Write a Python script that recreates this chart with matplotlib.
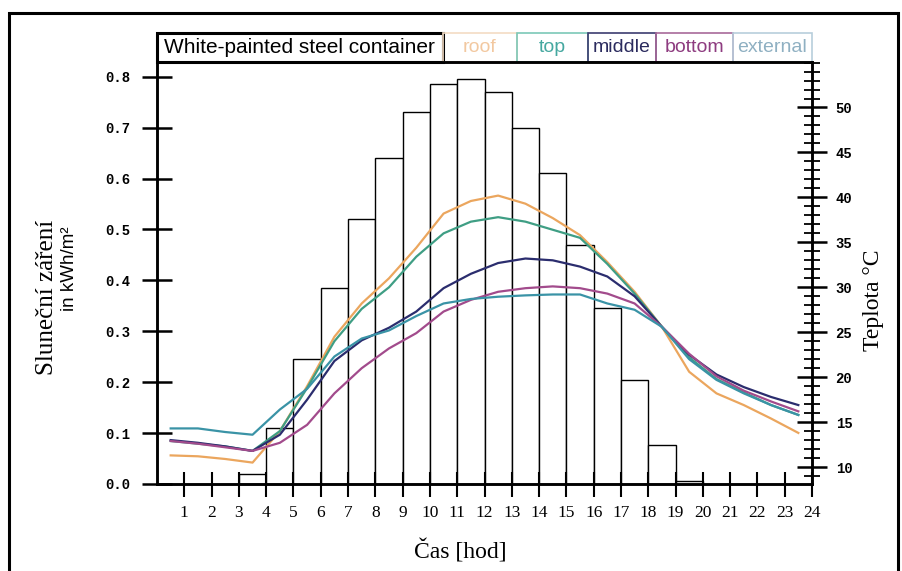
import numpy as np
import matplotlib.pyplot as plt
from matplotlib.patches import Rectangle
from matplotlib.ticker import MultipleLocator, FormatStrFormatter

# hourly solar radiation (bar for hour h spans h..h+1)
bar_hours = [3, 4, 5, 6, 7, 8, 9, 10, 11, 12, 13, 14, 15, 16, 17, 18, 19]
radiation = [0.02, 0.11, 0.245, 0.385, 0.52, 0.64, 0.73, 0.785, 0.795, 0.77,
             0.70, 0.61, 0.47, 0.345, 0.205, 0.077, 0.005]

# temperatures read at the middle of each hour
t_hours = [0.5, 1.5, 2.5, 3.5, 4.5, 5.5, 6.5, 7.5, 8.5, 9.5, 10.5, 11.5,
           12.5, 13.5, 14.5, 15.5, 16.5, 17.5, 18.5, 19.5, 20.5, 21.5, 22.5, 23.5]
roof = [11.3, 11.2, 10.9, 10.5, 14.0, 19.0, 24.5, 28.2, 31.0, 34.4, 38.2, 39.6,
        40.2, 39.3, 37.7, 35.8, 32.8, 29.5, 25.6, 20.6, 18.2, 16.9, 15.4, 13.8]
top = [12.9, 12.6, 12.3, 11.8, 14.0, 18.8, 24.0, 27.6, 30.0, 33.4, 36.0, 37.3,
       37.8, 37.3, 36.4, 35.5, 32.6, 29.3, 25.6, 22.2, 19.8, 18.3, 16.9, 15.8]
middle = [13.0, 12.7, 12.3, 11.8, 13.6, 17.5, 21.8, 24.1, 25.5, 27.3, 29.9, 31.5,
          32.7, 33.2, 33.0, 32.3, 31.2, 29.0, 25.6, 22.5, 20.3, 18.9, 17.8, 16.9]
bottom = [12.9, 12.6, 12.2, 11.8, 12.7, 14.7, 18.2, 21.0, 23.2, 24.9, 27.3, 28.6,
          29.5, 29.9, 30.1, 29.9, 29.3, 28.2, 25.6, 22.6, 20.1, 18.5, 17.3, 16.2]
external = [14.3, 14.3, 13.9, 13.6, 16.4, 18.7, 22.3, 24.3, 25.2, 26.8, 28.2, 28.7,
            28.95, 29.1, 29.2, 29.2, 28.2, 27.5, 25.6, 22.0, 19.7, 18.2, 16.9, 15.8]

series = [roof, top, middle, bottom, external]
line_colors = ['#eba65e', '#3f9e84', '#2b2d6e', '#a24b8c', '#3a93a6']
legend_labels = ['White-painted steel container', 'roof', 'top', 'middle', 'bottom', 'external']
legend_text_colors = ['black', '#f2c8a0', '#45a8a0', '#2b2b5e', '#8e3c80', '#8fb0c2']
legend_edge_colors = ['black', '#f3dcc4', '#7cc8b8', '#3c3c70', '#a86a9a', '#b8cedc']

serif = 'Liberation Serif'
mono = 'Liberation Mono'

fig = plt.figure(figsize=(9.03, 5.71), dpi=100)
ax = fig.add_axes([0.1739, 0.1524, 0.7253, 0.739])

ax.bar(bar_hours, radiation, width=1, align='edge', facecolor='white',
       edgecolor='black', linewidth=1.0)
ax.set_xlim(0, 24)
ax.set_ylim(0, 0.829)
ax.set_xticks(range(1, 25))
ax.set_yticks(np.arange(0, 0.81, 0.1))
ax.yaxis.set_major_formatter(FormatStrFormatter('%.1f'))
ax.tick_params(axis='x', direction='inout', length=18, width=1.5, pad=6,
               labelsize=12.5)
ax.tick_params(axis='y', direction='inout', length=22, width=1.8, pad=8,
               labelsize=10)
for lab in ax.get_xticklabels():
    lab.set_family(serif)
for lab in ax.get_yticklabels():
    lab.set_family(mono)
    lab.set_weight('bold')
for s in ax.spines.values():
    s.set_linewidth(1.8)

ax2 = ax.twinx()
for vals, c in zip(series, line_colors):
    ax2.plot(t_hours, vals, color=c, linewidth=1.6)
ax2.set_ylim(8.12, 55.06)
ax2.set_yticks(range(10, 51, 5))
ax2.yaxis.set_minor_locator(MultipleLocator(1))
ax2.tick_params(axis='y', which='major', direction='inout', length=22,
                width=1.8, pad=6, labelsize=10)
ax2.tick_params(axis='y', which='minor', direction='inout', length=11,
                width=1.3)
for lab in ax2.get_yticklabels():
    lab.set_family(mono)
    lab.set_weight('bold')
for s in ax2.spines.values():
    s.set_linewidth(1.8)

# legend boxes along the top of the plot
edges = [0, 0.436, 0.5496, 0.658, 0.7618, 0.879, 1.0]
box_h = 0.069
for i, lab in enumerate(legend_labels):
    x0, x1 = edges[i], edges[i + 1]
    ax.add_patch(Rectangle((x0, 1.0), x1 - x0, box_h, transform=ax.transAxes,
                           fill=False, edgecolor=legend_edge_colors[i],
                           linewidth=2.2 if i == 0 else 1.2, clip_on=False))
    ax.text((x0 + x1) / 2, 1.0 + box_h / 2, lab, transform=ax.transAxes,
            ha='center', va='center', fontsize=15 if i == 0 else 14,
            color=legend_text_colors[i], family='Liberation Sans')

fig.text(0.052, 0.48, 'Sluneční záření', rotation=90, ha='center', va='center',
         fontsize=18, family=serif)
fig.text(0.077, 0.53, 'in kWh/m²', rotation=90, ha='center', va='center',
         fontsize=13.5, family='Liberation Sans')
fig.text(0.967, 0.475, 'Teplota °C', rotation=90, ha='center', va='center',
         fontsize=17, family=serif)
fig.text(0.51, 0.035, 'Čas [hod]', ha='center', va='center', fontsize=17,
         family=serif)

fig.add_artist(Rectangle((0.010, -0.1), 0.984, 1.077, transform=fig.transFigure,
                         fill=False, edgecolor='black', linewidth=2.2))

fig.savefig('out.png', dpi=100)
